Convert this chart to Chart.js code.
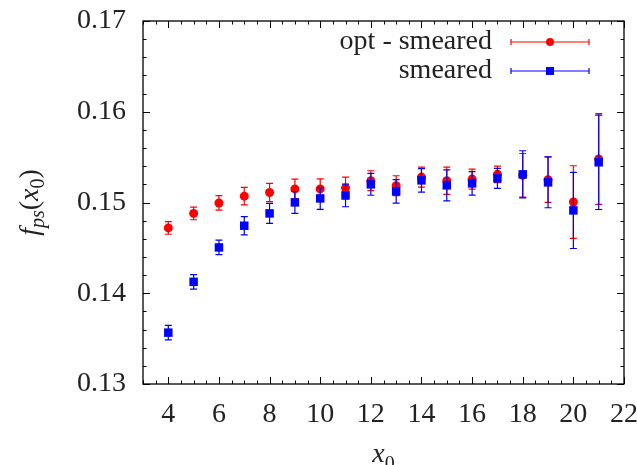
<!DOCTYPE html>
<html>
<head>
<meta charset="utf-8">
<script src="https://cdn.jsdelivr.net/npm/chart.js@4.4.0/dist/chart.umd.min.js"></script>
<style>
html,body{margin:0;padding:0;background:#fff;}
#wrap{width:637px;height:465px;position:relative;}
</style>
</head>
<body>
<div id="wrap"><canvas id="c" width="637" height="465"></canvas></div>
<script>
const x0 = [4,5,6,7,8,9,10,11,12,13,14,15,16,17,18,19,20,21];
const optSmeared = [0.1472,0.1488,0.14995,0.1507,0.1511,0.1515,0.1515,0.1516,0.1524,0.15185,0.1528,0.1524,0.15258,0.1531,0.1530,0.15252,0.15005,0.1548];
const optSmearedErr = [0.0007,0.0007,0.0008,0.00096,0.0010,0.00107,0.0011,0.0012,0.0011,0.0011,0.0011,0.0015,0.0011,0.0009,0.0024,0.0025,0.0040,0.0050];
const smeared = [0.13566,0.14126,0.14505,0.14744,0.1488,0.15001,0.15045,0.15078,0.1520,0.15123,0.15244,0.15189,0.15211,0.15266,0.1531,0.15222,0.14913,0.15443];
const smearedErr = [0.0008,0.0008,0.0008,0.0010,0.0011,0.0012,0.0012,0.00125,0.0012,0.0013,0.0013,0.0017,0.0013,0.0011,0.0026,0.0028,0.0042,0.0052];
const xTicks = [4,6,8,10,12,14,16,18,20,22];
const yTicks = [0.13,0.14,0.15,0.16,0.17];
const seriesLabels = ['opt - smeared','smeared'];

const FONT = '"Liberation Serif", "DejaVu Serif", serif';
const TXT = '#222';

function pts(xs, ys){ return xs.map((x,i)=>({x:x, y:ys[i]})); }

const errs = [optSmearedErr, smearedErr];

const errorBarPlugin = {
  id: 'errbars',
  beforeDatasetDraw(chart, args){
    const ds = chart.data.datasets[args.index];
    const e = errs[ds.errIndex];
    const xs = chart.scales.x, ys = chart.scales.y;
    const ctx = chart.ctx;
    ctx.save();
    ctx.strokeStyle = ds.borderColor;
    ctx.lineWidth = 1.2;
    ds.data.forEach((p,i)=>{
      const px = xs.getPixelForValue(p.x);
      const yt = ys.getPixelForValue(p.y + e[i]);
      const yb = ys.getPixelForValue(p.y - e[i]);
      ctx.beginPath();
      ctx.moveTo(px, yt); ctx.lineTo(px, yb);
      ctx.moveTo(px-3.5, yt); ctx.lineTo(px+3.5, yt);
      ctx.moveTo(px-3.5, yb); ctx.lineTo(px+3.5, yb);
      ctx.stroke();
    });
    ctx.restore();
  }
};

function drawRich(ctx, parts, x, y, align){
  let w = 0;
  parts.forEach(p=>{ ctx.font = (p[2]?'italic ':'') + p[1] + 'px ' + FONT; w += ctx.measureText(p[0]).width; });
  let cx = align === 'center' ? x - w/2 : x;
  parts.forEach(p=>{
    ctx.font = (p[2]?'italic ':'') + p[1] + 'px ' + FONT;
    ctx.fillText(p[0], cx, y + (p[3]||0));
    cx += ctx.measureText(p[0]).width;
  });
}

const framePlugin = {
  id: 'frame',
  afterDraw(chart){
    const ctx = chart.ctx;
    const a = chart.chartArea;
    const xs = chart.scales.x, ys = chart.scales.y;
    ctx.save();
    ctx.strokeStyle = '#000';
    ctx.lineWidth = 1;
    ctx.beginPath();
    for (let v = 3; v <= 22.0001; v += 0.5) {
      const px = Math.round(xs.getPixelForValue(v)) + 0.5;
      const major = Math.abs(v/2 - Math.round(v/2)) < 1e-6;
      const L = major ? 7 : 3.5;
      ctx.moveTo(px, a.bottom); ctx.lineTo(px, a.bottom - L);
      ctx.moveTo(px, a.top); ctx.lineTo(px, a.top + L);
    }
    for (let k = 0; k <= 20; k++) {
      const v = 0.13 + k*0.002;
      const py = Math.round(ys.getPixelForValue(v)) + 0.5;
      const L = (k % 5 === 0) ? 7 : 3.5;
      ctx.moveTo(a.left, py); ctx.lineTo(a.left + L, py);
      ctx.moveTo(a.right, py); ctx.lineTo(a.right - L, py);
    }
    ctx.stroke();
    ctx.lineWidth = 1.3;
    ctx.strokeRect(a.left, a.top, a.right - a.left, a.bottom - a.top);

    ctx.fillStyle = TXT;
    ctx.textBaseline = 'alphabetic';
    ctx.textAlign = 'left';
    drawRich(ctx, [['x',28,true,0],['0',20,false,8]], (a.left + a.right)/2, 462, 'center');
    ctx.save();
    ctx.translate(38, (a.top + a.bottom)/2);
    ctx.rotate(-Math.PI/2);
    drawRich(ctx, [['f',28,true,0],['ps',20,true,6],['(',28,false,0],['x',28,true,0],['0',20,false,6],[')',28,false,0]], 0, 0, 'center');
    ctx.restore();

    const rows = [42, 71];
    chart.data.datasets.slice().sort((p,q)=>p.errIndex-q.errIndex).forEach((ds, i)=>{
      const yy = rows[i];
      ctx.fillStyle = TXT;
      ctx.font = '28px ' + FONT;
      ctx.textAlign = 'right';
      ctx.textBaseline = 'middle';
      ctx.fillText(seriesLabels[ds.errIndex], 492, yy);
      ctx.strokeStyle = ds.borderColor;
      ctx.lineWidth = 1.2;
      ctx.beginPath();
      ctx.moveTo(511, yy); ctx.lineTo(589, yy);
      ctx.moveTo(511, yy-3); ctx.lineTo(511, yy+3);
      ctx.moveTo(589, yy-3); ctx.lineTo(589, yy+3);
      ctx.stroke();
      ctx.fillStyle = ds.backgroundColor;
      ctx.beginPath();
      if (ds.pointStyle === 'rect') ctx.rect(550-4, yy-4, 8, 8);
      else ctx.arc(550, yy, 4, 0, Math.PI*2);
      ctx.fill();
    });
    ctx.restore();
  }
};

new Chart(document.getElementById('c'), {
  type: 'scatter',
  data: {
    datasets: [
      { label: seriesLabels[0], errIndex: 0, order: 1, data: pts(x0, optSmeared),
        borderColor: '#ff0000', backgroundColor: '#ff0000', pointStyle: 'circle',
        pointRadius: 4.5, pointBorderWidth: 0, showLine: false },
      { label: seriesLabels[1], errIndex: 1, order: 0, data: pts(x0, smeared),
        borderColor: '#0000ff', backgroundColor: '#0000ff', pointStyle: 'rect',
        pointRadius: 6, pointBorderWidth: 0, showLine: false }
    ]
  },
  options: {
    responsive: false,
    animation: false,
    events: [],
    layout: { padding: { top: 21, right: 13, left: 0, bottom: 0 } },
    plugins: { legend: { display: false }, tooltip: { enabled: false } },
    scales: {
      x: {
        type: 'linear', min: 3, max: 22,
        grid: { display: false, drawTicks: false },
        border: { display: false },
        afterBuildTicks(s){ s.ticks = xTicks.map(v=>({value:v})); },
        afterFit(s){ s.height = 81; s.paddingLeft = 0; s.paddingRight = 0; },
        ticks: { color: TXT, font: { family: FONT, size: 28 }, padding: 14, maxRotation: 0, autoSkip: false }
      },
      y: {
        type: 'linear', min: 0.13, max: 0.17,
        grid: { display: false, drawTicks: false },
        border: { display: false },
        afterBuildTicks(s){ s.ticks = yTicks.map(v=>({value:v})); },
        afterFit(s){ s.width = 143; s.paddingTop = 0; s.paddingBottom = 0; },
        ticks: { color: TXT, font: { family: FONT, size: 28 }, padding: 17, autoSkip: false,
                 callback: v => Number(v).toFixed(2) }
      }
    }
  },
  plugins: [errorBarPlugin, framePlugin]
});
</script>
</body>
</html>
